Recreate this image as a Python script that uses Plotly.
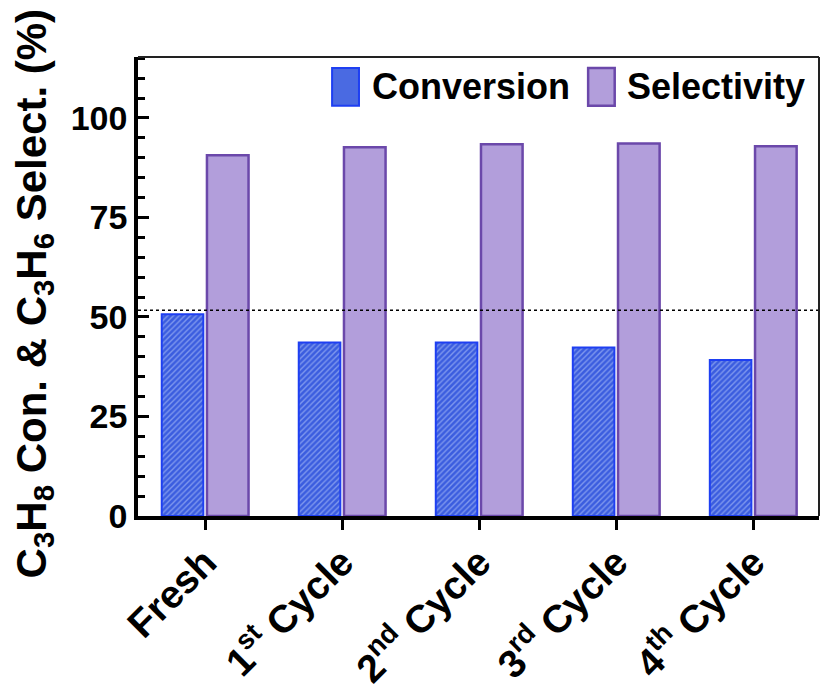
import plotly.graph_objects as go

categories = ["Fresh", "1st Cycle", "2nd Cycle", "3rd Cycle", "4th Cycle"]
tick_labels = ["Fresh", "1<sup>st</sup> Cycle", "2<sup>nd</sup> Cycle",
               "3<sup>rd</sup> Cycle", "4<sup>th</sup> Cycle"]
conversion = [50.7, 43.6, 43.6, 42.3, 39.2]
selectivity = [90.6, 92.6, 93.4, 93.6, 92.9]
reference_line = 51.7
y_ticks = [0, 25, 50, 75, 100]
y_title = "<b>C<sub>3</sub>H<sub>8</sub> Con. &amp; C<sub>3</sub>H<sub>6</sub> Select. (%)</b>"

FONT = "Arial, Liberation Sans, Helvetica, sans-serif"
BLUE_EDGE = "#1e3ff2"
BLUE_FILL = "#3b5ddf"
BLUE_HATCH = "#7f98ee"
PURPLE_FILL = "#b29edb"
PURPLE_EDGE = "#6b48aa"

fig = go.Figure()
fig.add_trace(go.Bar(
    x=categories, y=conversion, name="Conversion",
    marker=dict(color=BLUE_FILL,
                line=dict(color=BLUE_EDGE, width=2),
                pattern=dict(shape="/", bgcolor=BLUE_FILL, fgcolor=BLUE_HATCH,
                             size=4, solidity=0.35, fillmode="replace")),
    showlegend=False,
))
fig.add_trace(go.Bar(
    x=categories, y=selectivity, name="Selectivity",
    marker=dict(color=PURPLE_FILL, line=dict(color=PURPLE_EDGE, width=2.5)),
    showlegend=False,
))

fig.add_hline(y=reference_line, line=dict(color="black", width=1.5, dash="dot"))

# frame top/right
fig.add_shape(type="line", xref="paper", yref="paper", x0=0, x1=1, y0=1, y1=1,
              line=dict(color="#222222", width=2))
fig.add_shape(type="line", xref="paper", yref="paper", x0=1, x1=1, y0=0, y1=1,
              line=dict(color="#222222", width=2))

# custom legend
fig.add_shape(type="rect", xref="paper", yref="paper",
              x0=0.285, x1=0.3245, y0=0.894, y1=0.976,
              fillcolor="#4a6ae2", line=dict(color=BLUE_EDGE, width=2))
fig.add_shape(type="rect", xref="paper", yref="paper",
              x0=0.661, x1=0.700, y0=0.894, y1=0.976,
              fillcolor=PURPLE_FILL, line=dict(color=PURPLE_EDGE, width=2.5))
fig.add_annotation(xref="paper", yref="paper", x=0.341, y=0.935, xanchor="left",
                   yanchor="middle", text="<b>Conversion</b>", showarrow=False,
                   font=dict(family=FONT, size=36, color="black"))
fig.add_annotation(xref="paper", yref="paper", x=0.715, y=0.935, xanchor="left",
                   yanchor="middle", text="<b>Selectivity</b>", showarrow=False,
                   font=dict(family=FONT, size=36, color="black"))

# y-axis title
fig.add_annotation(xref="paper", yref="paper", x=-0.152, y=0.486,
                   xanchor="center", yanchor="middle", textangle=-90,
                   text=y_title, showarrow=False,
                   font=dict(family=FONT, size=42, color="black"))

fig.update_layout(
    width=821, height=693,
    margin=dict(l=138, r=2, t=57, b=175),
    paper_bgcolor="white", plot_bgcolor="white",
    barmode="group", bargap=0.34, bargroupgap=0.08,
    font=dict(family=FONT, color="black"),
)
fig.update_xaxes(
    type="category", range=[-0.49, 4.48],
    tickmode="array", tickvals=categories,
    ticktext=[f"<b>{t}</b>" for t in tick_labels],
    tickangle=-45, tickfont=dict(family=FONT, size=39, color="black"),
    ticklabelstandoff=-6,
    ticks="outside", ticklen=10, tickwidth=3, tickcolor="black",
    showline=True, linecolor="black", linewidth=3.5,
    showgrid=False, zeroline=False,
)
fig.update_yaxes(
    range=[0, 115.3],
    tickmode="array", tickvals=y_ticks,
    ticktext=[f"<b>{v}</b>" for v in y_ticks],
    tickfont=dict(family=FONT, size=34, color="black"),
    ticks="inside", ticklen=11, tickwidth=3, tickcolor="black",
    minor=dict(dtick=5, ticks="inside", ticklen=7, tickwidth=2.5, tickcolor="black"),
    showline=True, linecolor="black", linewidth=3.5,
    showgrid=False, zeroline=False,
)

fig.write_html("out.html")
